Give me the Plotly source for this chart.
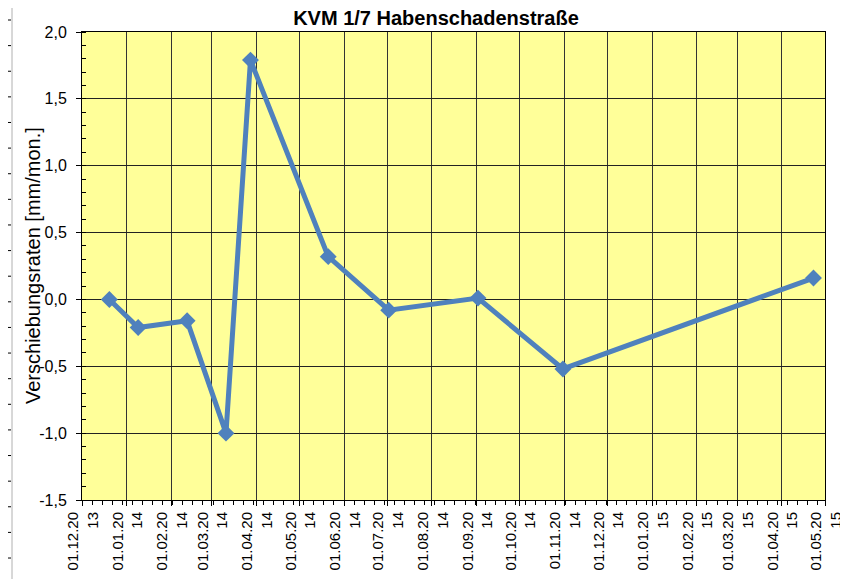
import plotly.graph_objects as go

# ---- data ----
dates = ["2013-12-20", "2014-01-09", "2014-02-12", "2014-03-11", "2014-03-28",
         "2014-05-21", "2014-07-02", "2014-09-02", "2014-10-31", "2015-04-23"]
rates = [0.0, -0.21, -0.16, -1.0, 1.79, 0.32, -0.08, 0.01, -0.52, 0.16]

tick_dates = ["2013-12-01", "2014-01-01", "2014-02-01", "2014-03-01", "2014-04-01",
              "2014-05-01", "2014-06-01", "2014-07-01", "2014-08-01", "2014-09-01",
              "2014-10-01", "2014-11-01", "2014-12-01", "2015-01-01", "2015-02-01",
              "2015-03-01", "2015-04-01", "2015-05-01"]
tick_labels = ["01.12.20<br>13", "01.01.20<br>14", "01.02.20<br>14", "01.03.20<br>14",
               "01.04.20<br>14", "01.05.20<br>14", "01.06.20<br>14", "01.07.20<br>14",
               "01.08.20<br>14", "01.09.20<br>14", "01.10.20<br>14", "01.11.20<br>14",
               "01.12.20<br>14", "01.01.20<br>15", "01.02.20<br>15", "01.03.20<br>15",
               "01.04.20<br>15", "01.05.20<br>15"]
y_ticks = [-1.5, -1.0, -0.5, 0.0, 0.5, 1.0, 1.5, 2.0]
y_labels = ["-1,5", "-1,0", "-0,5", "0,0", "0,5", "1,0", "1,5", "2,0"]

title = "KVM 1/7 Habenschadenstraße"
y_title = "Verschiebungsraten [mm/mon.]"

# ---- layout geometry ----
W, H = 848, 579
OFF = 8                        # page body margin
L, R, T, B = 82, 825, 32, 500  # plot area in screen pixels
FONT = "Liberation Sans, Arial, sans-serif"

def px_x(x):
    return (x - L) / (R - L)

def px_y(y):
    return (B - y) / (B - T)

fig = go.Figure()
fig.add_trace(go.Scatter(
    x=dates, y=rates, mode="lines+markers",
    line=dict(color="#4F81BD", width=5),
    marker=dict(symbol="diamond", size=13, color="#4F81BD"),
    showlegend=False, cliponaxis=False,
))

# decorative fragments of neighbouring charts at the image edges
shapes = []
shapes.append(dict(type="line", xref="paper", yref="paper",
                   x0=px_x(12), x1=px_x(12), y0=px_y(0), y1=px_y(600),
                   line=dict(color="#b0b0b0", width=1)))
shapes.append(dict(type="line", xref="paper", yref="paper",
                   x0=px_x(842), x1=px_x(842), y0=px_y(0), y1=px_y(600),
                   line=dict(color="#444444", width=3)))
for k in range(22):
    yy = 20 + 25.62 * k
    shapes.append(dict(type="line", xref="paper", yref="paper",
                       x0=px_x(0), x1=px_x(11), y0=px_y(yy), y1=px_y(yy),
                       line=dict(color="#000000", width=1)))
    shapes.append(dict(type="line", xref="paper", yref="paper",
                       x0=px_x(843), x1=px_x(850), y0=px_y(yy), y1=px_y(yy),
                       line=dict(color="#000000", width=1)))

fig.update_layout(
    width=W, height=H,
    margin=dict(l=L - OFF, r=W - (R - OFF), t=T - OFF, b=H - (B - OFF), autoexpand=False),
    paper_bgcolor="white",
    plot_bgcolor="#FFFF99",
    font=dict(family=FONT, color="black"),
    title=dict(text="<b>" + title + "</b>", xref="container", yref="container",
               x=(436 - OFF) / W, y=1 - 3 / H, xanchor="center", yanchor="top",
               pad=dict(t=0, b=0, l=0, r=0),
               font=dict(size=20, family=FONT, color="black")),
    shapes=shapes,
    annotations=[dict(text=y_title, xref="paper", yref="paper",
                      x=px_x(33), y=0.5, xanchor="center", yanchor="middle",
                      textangle=-90, showarrow=False,
                      font=dict(size=20, family=FONT, color="black"))],
)

fig.update_xaxes(
    type="date", range=["2013-12-01", "2015-05-01"],
    tickmode="array", tickvals=tick_dates, ticktext=tick_labels,
    tickangle=-90, tickfont=dict(size=15, family=FONT, color="black"),
    ticklabelshift=1,
    ticks="outside", ticklen=5, tickcolor="black",
    showgrid=True, gridcolor="#333333", gridwidth=1,
    showline=True, linecolor="black", linewidth=1, mirror=True,
    zeroline=False, automargin=False,
    minor=dict(dtick=7 * 86400000, tick0="2013-12-01", ticks="outside",
               ticklen=4, tickcolor="black", showgrid=False),
)
fig.update_yaxes(
    range=[-1.5, 2.0], tickmode="array", tickvals=y_ticks, ticktext=y_labels,
    tickfont=dict(size=16, family=FONT, color="black"),
    ticklabelstandoff=6,
    ticks="outside", ticklen=5, tickcolor="black",
    showgrid=True, gridcolor="#222222", gridwidth=1,
    showline=True, linecolor="black", linewidth=1, mirror=True,
    zeroline=False, automargin=False,
    minor=dict(dtick=0.1, tick0=0, ticks="inside", ticklen=4,
               tickcolor="black", showgrid=False),
)

fig.write_html("out.html")
